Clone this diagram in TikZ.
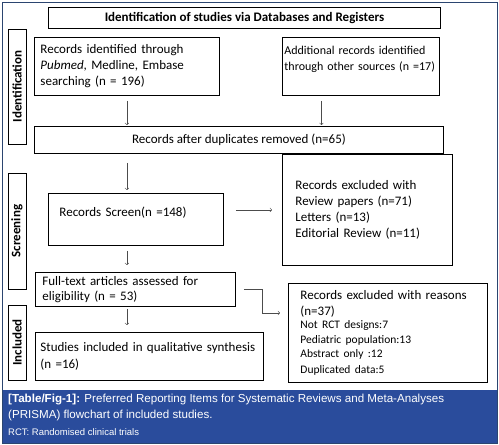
\documentclass[tikz,border=0pt]{standalone}
\usepackage{fontspec}
\setmainfont{Carlito}
\newfontfamily\capfont{Liberation Sans}
\usetikzlibrary{calc}
\definecolor{bandblue}{HTML}{2A4C9C}
\definecolor{framenavy}{HTML}{2B4570}

\begin{document}
\begin{tikzpicture}[x=1pt, y=-1pt,
  recbox/.style={draw=black, line width=0.9pt, anchor=north west, align=left,
    inner ysep=0pt, font=\fontsize{13}{16}\selectfont},
  sidebar/.style={draw=black, line width=0.9pt, rotate=90, inner sep=0pt,
    minimum height=18pt, font=\bfseries\fontsize{13}{15}\selectfont},
  flow/.style={->, draw=gray!60!black, line width=0.6pt},
  captext/.style={anchor=west, text=white, inner sep=0pt}]
  % Background and frame
  \useasboundingbox (0, 0) rectangle (499, 445);
  \fill[white] (0, 0) rectangle (499, 445);
  \fill[bandblue] (2, 390) rectangle (497, 443);
  \draw[framenavy, line width=0.8pt] (2, 2) rectangle (497, 443);

  % Title
  \node[recbox, align=center, minimum width=392pt, minimum height=21pt,
    font=\bfseries\fontsize{13}{15}\selectfont] (title) at (48, 7)
    {Identification of studies via Databases and Registers};

  % Phase bars
  \node[sidebar, minimum width=115pt] (idbar) at (17, 86.5) {Identification};
  \node[sidebar, minimum width=116pt] (scbar) at (17, 231) {Screening};
  \node[sidebar, minimum width=75pt] (inbar) at (17, 342.5) {Included};

  % Identification
  \node[recbox, inner xsep=2pt, text width=173pt, minimum height=58pt,
    inner xsep=6pt] (dbrec) at (34, 37)
    {Records identified through\\ \textit{Pubmed}, Medline, Embase\\ searching (n = 196)};
  \node[recbox, inner xsep=2pt, text width=153pt, minimum height=58pt,
    font=\fontsize{12}{16}\selectfont] (other) at (282, 37)
    {\mbox{Additional records identified}\\ \mbox{through other sources (n =17)}\\ \mbox{}};
  \node[recbox, align=center, inner xsep=4pt, minimum width=409pt, minimum height=27pt] (dedup) at (34, 126)
    {Records after duplicates removed (n=65)};

  % Screening
  \node[recbox, inner xsep=11pt, text width=153pt, minimum height=52pt] (screen) at (48, 193)
    {Records Screen(n =148)\\ \mbox{}};
  \node[recbox, inner xsep=13pt, text width=144pt, minimum height=111pt] (exclA) at (282, 154)
    {Records excluded with\\ Review papers (n=71)\\ Letters (n=13)\\ Editorial Review (n=11)};
  \node[recbox, inner xsep=7pt, text width=186pt, minimum height=34pt,
    font=\fontsize{13}{15}\selectfont] (fulltext) at (35, 272)
    {Full-text articles assessed for\\ eligibility (n = 53)};
  \node[recbox, inner xsep=12pt, text width=175pt, minimum height=99pt] (exclB) at (288, 283)
    {Records excluded with reasons\\ (n=37)\\[-1pt]
     {\fontsize{11.5}{14.5}\selectfont Not RCT designs:7\\ Pediatric population:13\\
     Abstract only :12\\ Duplicated data:5}};

  % Included
  \node[recbox, inner xsep=5pt, text width=218pt, minimum height=48pt,
    font=\fontsize{13}{17}\selectfont] (studies) at (35, 332)
    {Studies included in qualitative synthesis\\ (n =16)};

  % Connectors
  \coordinate (otherfoot) at ($(other.south west)!0.25!(other.south east)$);
  \coordinate (turn) at (262, 313);
  \draw[flow, shorten <=5pt, shorten >=1pt] (dbrec.south) -- (dbrec.south |- dedup.north);
  \draw[flow, shorten <=5pt, shorten >=1pt] (otherfoot) -- (otherfoot |- dedup.north);
  \draw[flow, shorten <=9pt, shorten >=3pt] (dbrec.south |- dedup.south) -- (dbrec.south |- screen.north);
  \draw[flow, shorten <=12pt, shorten >=10pt] (screen.east |- exclA.west) -- (exclA.west);
  \draw[flow, shorten <=5pt, shorten >=7pt] (dbrec.south |- screen.south) -- (dbrec.south |- fulltext.north);
  \draw[flow, shorten <=2pt, shorten >=7pt] (dbrec.south |- fulltext.south) -- (dbrec.south |- studies.north);
  \draw[flow, shorten <=8pt, shorten >=8pt] (fulltext.east) -| (turn) -- (turn -| exclB.west);

  % Caption
  \node[captext, font=\capfont\fontsize{11.6}{14}\selectfont] (capA) at (8, 400)
    {\textbf{[Table/Fig-1]:} Preferred Reporting Items for Systematic Reviews and Meta-Analyses};
  \node[captext, font=\capfont\fontsize{11.6}{14}\selectfont] (capB) at (8, 415)
    {(PRISMA) flowchart of included studies.};
  \node[captext, font=\capfont\fontsize{9.5}{12}\selectfont] (capC) at (8, 432)
    {RCT: Randomised clinical trials};

\end{tikzpicture}
\end{document}
